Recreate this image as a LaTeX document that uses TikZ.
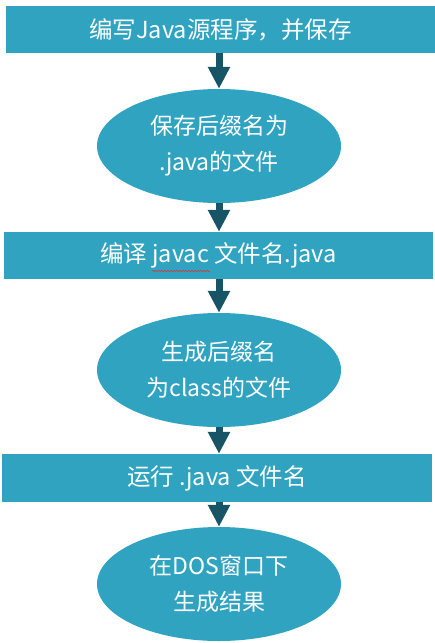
\documentclass[tikz,border=0pt]{standalone}
\usepackage{fontspec}
\setmainfont{Noto Sans CJK SC}
\usetikzlibrary{arrows.meta,shapes.geometric,decorations.pathmorphing}
\definecolor{boxfill}{HTML}{2FA3C0}
\definecolor{arrowcol}{HTML}{175466}
\definecolor{spellred}{HTML}{E03030}
\tikzset{
  stepbox/.style={rectangle, fill=boxfill, text=white, inner sep=0pt, minimum height=47pt, font=\fontsize{23.5}{28}\selectfont},
  stepoval/.style={ellipse, fill=boxfill, text=white, inner sep=0pt, minimum width=244pt, minimum height=114pt, align=center, font=\fontsize{23}{36}\selectfont},
  flowarrow/.style={draw=arrowcol, line width=7pt, -{Triangle[width=21pt,length=22pt]}, arrowcol}
}
\begin{document}
\begin{tikzpicture}[x=1pt,y=-1pt]
\useasboundingbox (0,0) rectangle (435,643);
\node[stepbox, minimum width=429pt] (r1) at (220.5,29.5) {编写Java源程序，并保存};
\node[stepoval] (e1) at (219,146) {保存后缀名为\\.java的文件};
\node[stepbox, minimum width=429pt] (r2) at (218.5,255.5) {编译 javac 文件名.java};
\node[stepoval] (e2) at (219,370) {生成后缀名\\为class的文件};
\node[stepbox, minimum width=430pt, minimum height=48pt] (r3) at (217,478) {运行 .java 文件名};
\node[stepoval] (e3) at (219,584) {在DOS窗口下\\生成结果};
\draw[flowarrow] (r1.south -| e1.north) -- (e1.north);
\draw[flowarrow] (e1.south) -- (e1.south |- r2.north);
\draw[flowarrow] (r2.south -| e2.north) -- (e2.north);
\draw[flowarrow] (e2.south) -- (e2.south |- r3.north);
\draw[flowarrow] (r3.south -| e3.north) -- (e3.north);
\draw[spellred, line width=0.5pt, decorate, decoration={snake, amplitude=0.7pt, segment length=3pt}] (152,271) -- (210,271);
\end{tikzpicture}
\end{document}
